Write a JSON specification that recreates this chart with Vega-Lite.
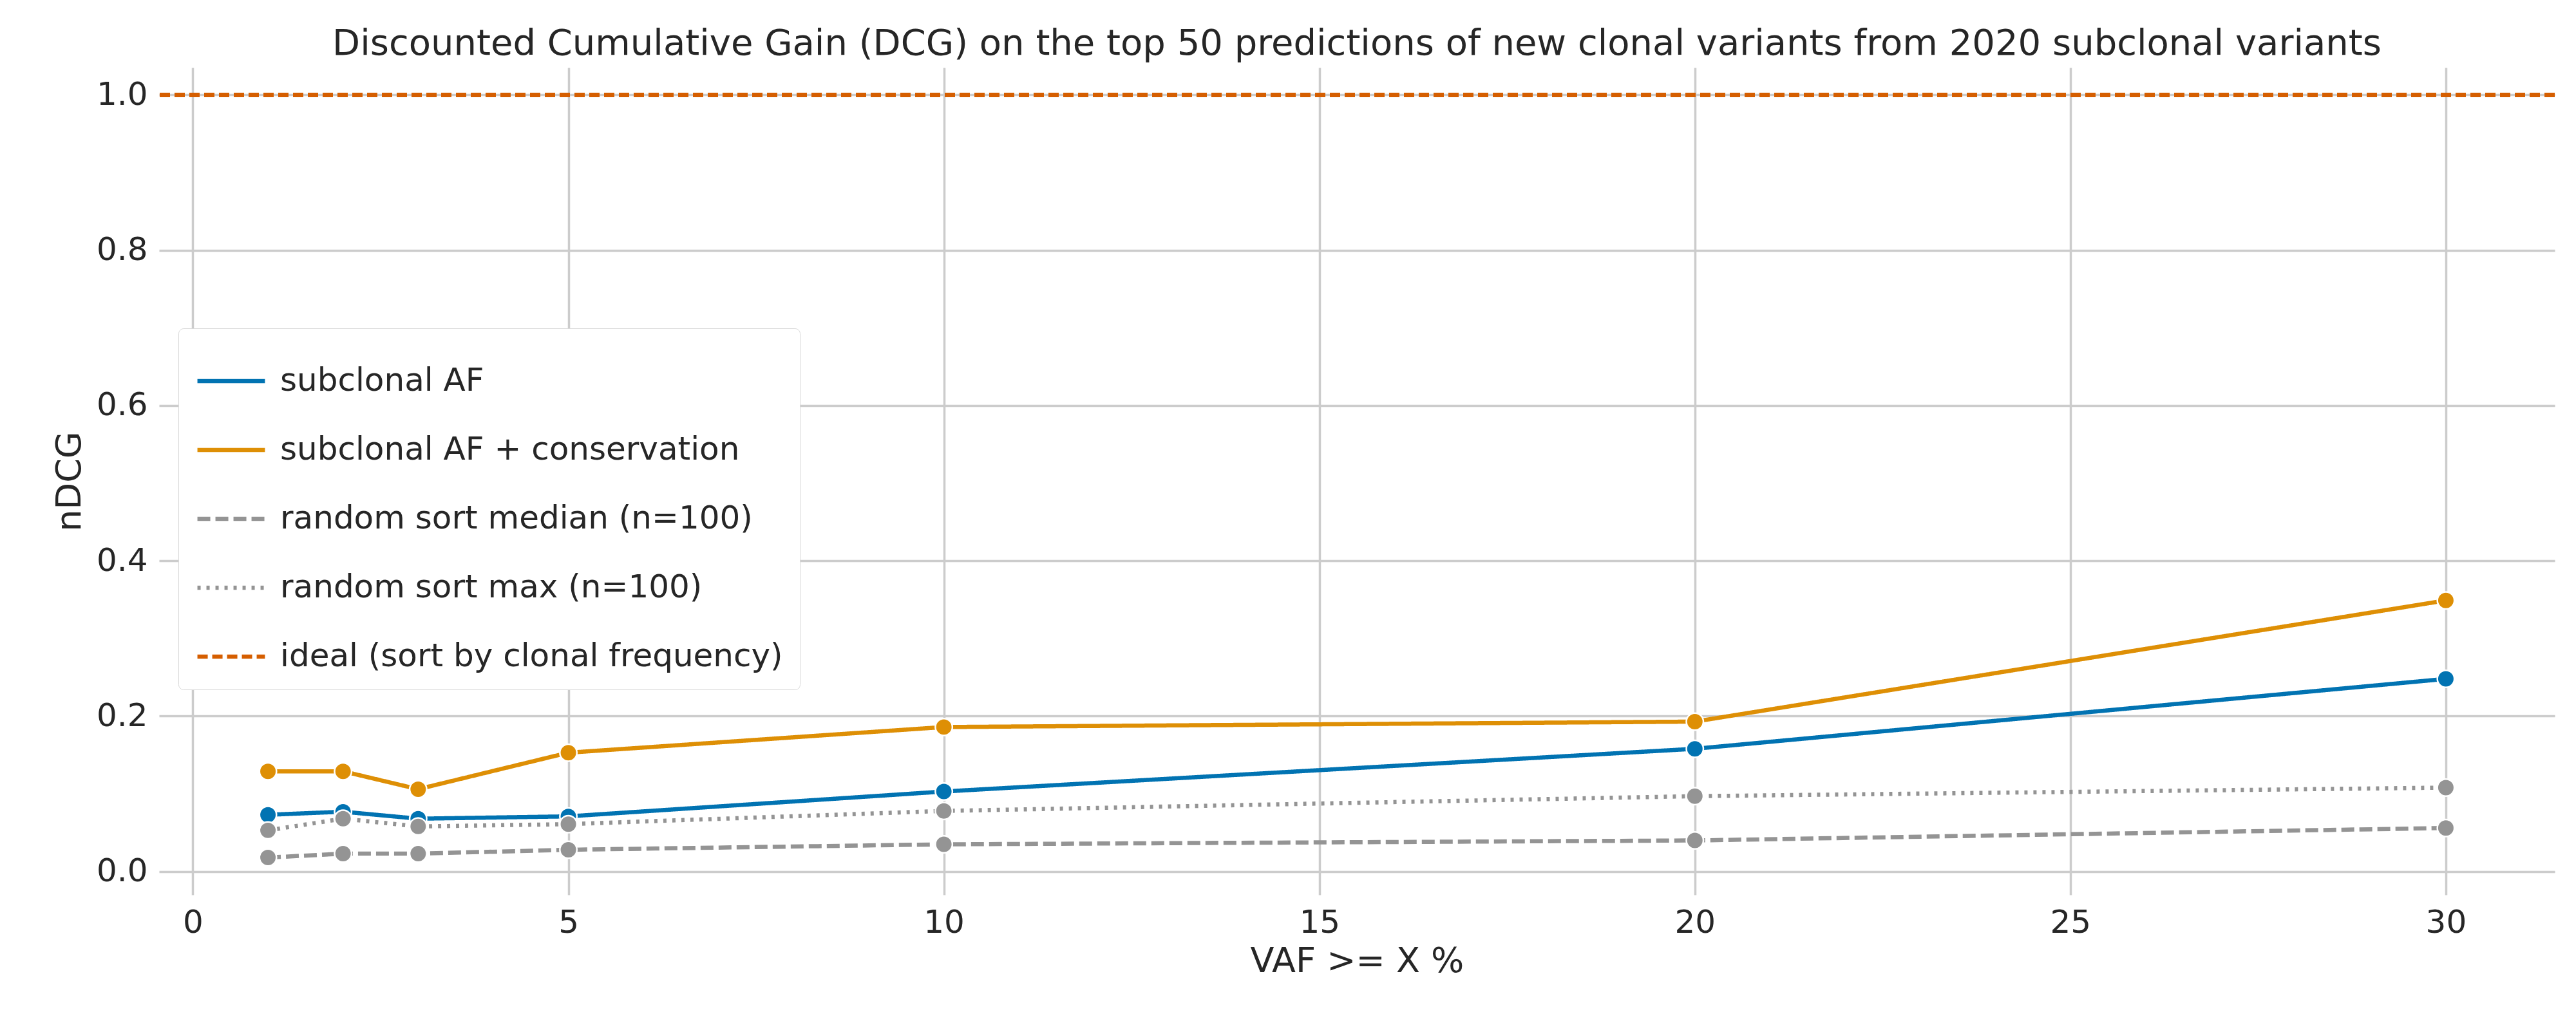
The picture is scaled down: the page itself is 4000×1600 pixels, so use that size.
{
"$schema":"https://vega.github.io/schema/vega-lite/v6.json",
"autosize":{"type":"none"},
"width":3720,"height":1285,
"padding":{"left":247,"top":105,"right":33,"bottom":210},
"background":"white",
"title":{"text":"Discounted Cumulative Gain (DCG) on the top 50 predictions of new clonal variants from 2020 subclonal variants","fontSize":56,"font":"DejaVu Sans","fontWeight":"normal","color":"#262626","offset":8},
"config":{"view":{"stroke":null},"font":"DejaVu Sans",
"axis":{"domain":false,"ticks":false,"gridColor":"#cccccc","gridWidth":3.5,"labelFontSize":50,"titleFontSize":54,"labelColor":"#262626","titleColor":"#262626","titleFontWeight":"normal","labelPadding":18}},
"data":{"values":[
{"s":"subclonal AF","x":1,"y":0.073},{"s":"subclonal AF","x":2,"y":0.077},{"s":"subclonal AF","x":3,"y":0.068},{"s":"subclonal AF","x":5,"y":0.071},{"s":"subclonal AF","x":10,"y":0.103},{"s":"subclonal AF","x":20,"y":0.158},{"s":"subclonal AF","x":30,"y":0.248},
{"s":"subclonal AF + conservation","x":1,"y":0.129},{"s":"subclonal AF + conservation","x":2,"y":0.129},{"s":"subclonal AF + conservation","x":3,"y":0.106},{"s":"subclonal AF + conservation","x":5,"y":0.153},{"s":"subclonal AF + conservation","x":10,"y":0.186},{"s":"subclonal AF + conservation","x":20,"y":0.193},{"s":"subclonal AF + conservation","x":30,"y":0.349},
{"s":"random sort median (n=100)","x":1,"y":0.018},{"s":"random sort median (n=100)","x":2,"y":0.023},{"s":"random sort median (n=100)","x":3,"y":0.023},{"s":"random sort median (n=100)","x":5,"y":0.028},{"s":"random sort median (n=100)","x":10,"y":0.035},{"s":"random sort median (n=100)","x":20,"y":0.040},{"s":"random sort median (n=100)","x":30,"y":0.056},
{"s":"random sort max (n=100)","x":1,"y":0.053},{"s":"random sort max (n=100)","x":2,"y":0.068},{"s":"random sort max (n=100)","x":3,"y":0.058},{"s":"random sort max (n=100)","x":5,"y":0.061},{"s":"random sort max (n=100)","x":10,"y":0.078},{"s":"random sort max (n=100)","x":20,"y":0.097},{"s":"random sort max (n=100)","x":30,"y":0.108}
]},
"encoding":{
"x":{"field":"x","type":"quantitative","scale":{"domain":[-0.45,31.45],"nice":false,"zero":false},"axis":{"values":[0,5,10,15,20,25,30],"title":"VAF >= X %","titlePadding":8}},
"y":{"field":"y","type":"quantitative","scale":{"domain":[-0.03,1.035],"nice":false},"axis":{"values":[0,0.2,0.4,0.6,0.8,1.0],"format":".1f","title":"nDCG","titlePadding":14}}
},
"layer":[
{"mark":{"type":"line","strokeWidth":6.5},
 "encoding":{
 "color":{"field":"s","type":"nominal","scale":{"domain":["subclonal AF","subclonal AF + conservation","random sort median (n=100)","random sort max (n=100)","ideal (sort by clonal frequency)"],"range":["#0173b2","#de8f05","#949494","#949494","#d55e00"]},
  "legend":{"title":null,"orient":"none","legendX":30,"legendY":405,"labelFontSize":50,"labelColor":"#262626","symbolType":"stroke","symbolSize":11000,"symbolStrokeWidth":6.5,"rowPadding":26,"padding":26,"labelOffset":20,"strokeColor":"#d9d9d9","fillColor":"white","cornerRadius":8,"labelLimit":1500}},
 "strokeDash":{"field":"s","type":"nominal","scale":{"domain":["subclonal AF","subclonal AF + conservation","random sort median (n=100)","random sort max (n=100)","ideal (sort by clonal frequency)"],"range":[[1,0],[1,0],[20,8],[5,9],[16,7]]},"legend":null}}},
{"mark":{"type":"point","filled":true,"size":700,"stroke":"white","strokeWidth":2.5,"opacity":1},
 "encoding":{"color":{"field":"s","type":"nominal","legend":null}}},
{"mark":{"type":"rule","strokeWidth":6.5},
 "encoding":{"y":{"datum":1},"x":null,
  "color":{"datum":"ideal (sort by clonal frequency)"},
  "strokeDash":{"datum":"ideal (sort by clonal frequency)"}}}
]
}
